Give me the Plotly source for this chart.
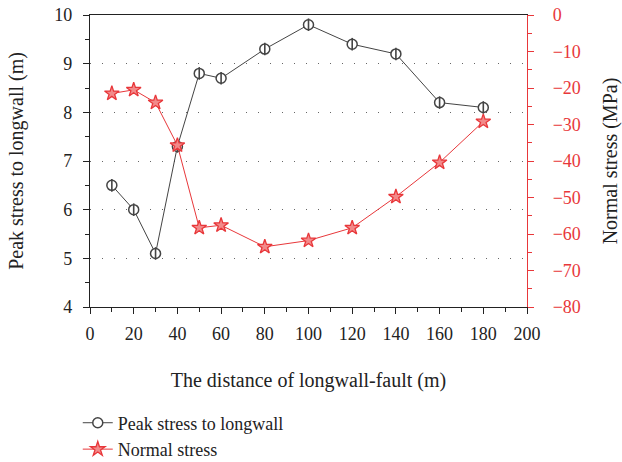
import plotly.graph_objects as go

# Distance between longwall and fault (m)
distance = [10, 20, 30, 40, 50, 60, 80, 100, 120, 140, 160, 180]
# Peak stress position relative to longwall (m)
peak_stress = [6.5, 6.0, 5.1, 7.3, 8.8, 8.7, 9.3, 9.8, 9.4, 9.2, 8.2, 8.1]
# Normal stress on the fault (MPa)
normal_stress = [-21.5, -20.5, -24.0, -35.7, -58.3, -57.6, -63.5, -61.8, -58.3, -49.8, -40.4, -29.2]

FONT = "Liberation Serif"
INK = "#222222"
DARK = "#444444"
RED = "#e8373a"

fig = go.Figure()

fig.add_trace(go.Scatter(
    x=distance, y=peak_stress, name="Peak stress to longwall",
    mode="lines+markers",
    line=dict(color=DARK, width=1),
    marker=dict(symbol="circle", size=10, color="white",
                line=dict(color=DARK, width=1.5)),
))
# vertical stroke inside each circle marker
fig.add_trace(go.Scatter(
    x=distance, y=peak_stress, mode="markers", showlegend=False,
    hoverinfo="skip",
    marker=dict(symbol="line-ns", size=9, line=dict(color=DARK, width=1.6)),
))

fig.add_trace(go.Scatter(
    x=distance, y=normal_stress, name="Normal stress", yaxis="y2",
    mode="lines+markers",
    line=dict(color=RED, width=1),
    marker=dict(symbol="star", size=11, color="#f28a8a",
                line=dict(color=RED, width=1.3)),
))

fig.update_layout(
    width=622, height=462,
    margin=dict(l=90, r=95, t=15, b=155, autoexpand=False),
    plot_bgcolor="white", paper_bgcolor="white",
    font=dict(family=FONT, size=18, color=INK),
    showlegend=True,
    legend=dict(x=-0.028, y=-0.334, xanchor="left", yanchor="top",
                font=dict(family=FONT, size=18, color=INK),
                itemwidth=30, tracegroupgap=0, bgcolor="rgba(0,0,0,0)"),
    xaxis=dict(
        range=[0, 200], dtick=20, tick0=0,
        showline=True, linecolor=INK, linewidth=1.2, mirror=True,
        ticks="outside", ticklen=6, tickcolor=INK, ticklabelstandoff=4,
        minor=dict(dtick=10, ticks="outside", ticklen=4, tickcolor=INK),
        showgrid=False, zeroline=False,
        title=dict(text="The distance of longwall-fault (m)",
                   font=dict(family=FONT, size=20), standoff=30),
    ),
    yaxis=dict(
        range=[4, 10], dtick=1,
        showline=True, linecolor=INK, linewidth=1.2,
        ticks="outside", ticklen=6, tickcolor=INK, ticklabelstandoff=7,
        minor=dict(dtick=0.5, ticks="outside", ticklen=4, tickcolor=INK),
        showgrid=True, gridcolor="#666666", griddash="1px,11px", gridwidth=1.2,
        zeroline=False,
        title=dict(text="Peak stress to longwall (m)",
                   font=dict(family=FONT, size=20), standoff=25),
    ),
    yaxis2=dict(
        overlaying="y", side="right",
        range=[-80, 0], dtick=10,
        showline=True, linecolor=RED, linewidth=1.2,
        ticks="outside", ticklen=6, tickcolor=RED, ticklabelstandoff=15,
        minor=dict(dtick=5, ticks="outside", ticklen=4, tickcolor=RED),
        tickfont=dict(color=RED, family=FONT, size=18),
        showgrid=False, zeroline=False,
        title=dict(text="Normal stress (MPa)",
                   font=dict(family=FONT, size=20, color=INK), standoff=25),
    ),
)

fig.write_html("out.html")
